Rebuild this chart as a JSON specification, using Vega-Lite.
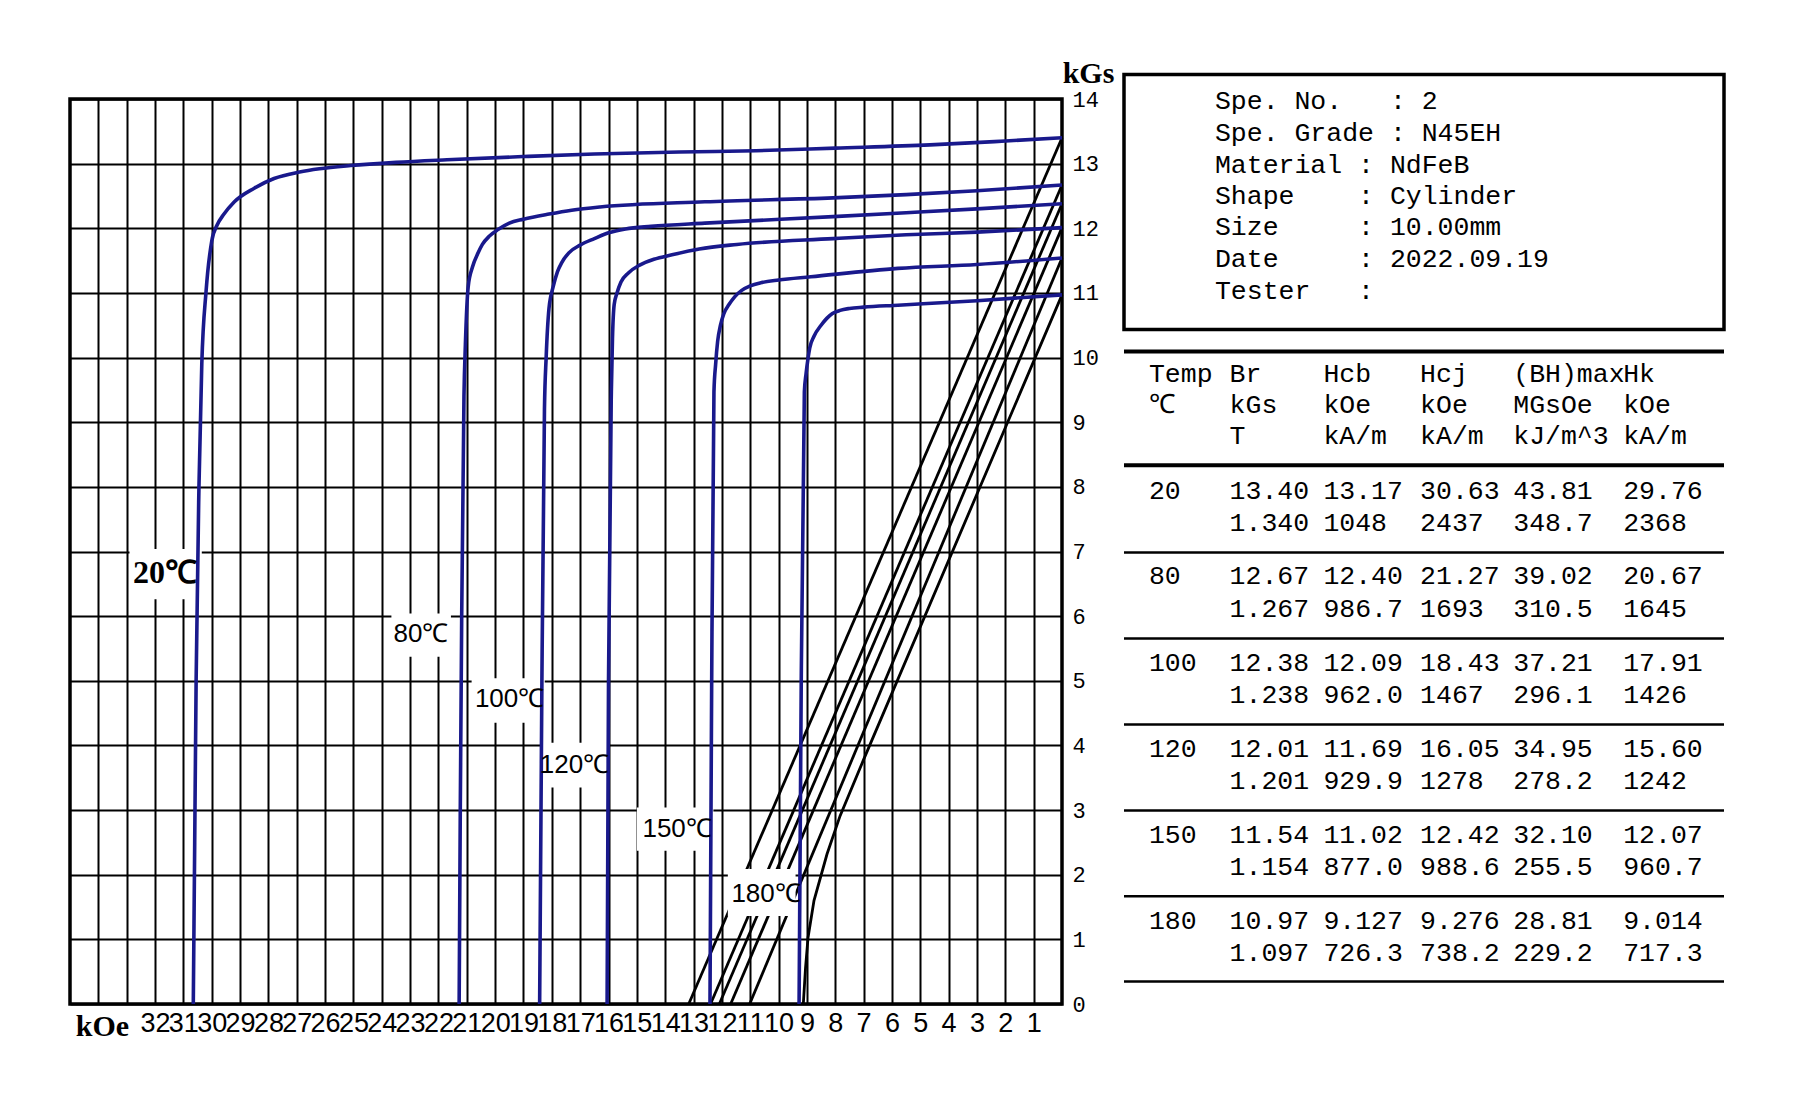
{
  "$schema": "https://vega.github.io/schema/vega-lite/v6.json",
  "background": "white",
  "padding": {"left": 68, "top": 56, "right": 20, "bottom": 20},
  "bounds": "flush",
  "spacing": 62,
  "config": {"view": {"stroke": null}},
  "datasets": {
    "jcurves": [
      {"temp": "20", "H": 0, "J": 13.40}, {"temp": "20", "H": 2, "J": 13.35}, {"temp": "20", "H": 4.66, "J": 13.29}, {"temp": "20", "H": 8, "J": 13.24}, {"temp": "20", "H": 10.8, "J": 13.2}, {"temp": "20", "H": 13.5, "J": 13.18}, {"temp": "20", "H": 16.5, "J": 13.15}, {"temp": "20", "H": 19, "J": 13.11}, {"temp": "20", "H": 21.7, "J": 13.06}, {"temp": "20", "H": 23.5, "J": 13.02}, {"temp": "20", "H": 25.1, "J": 12.97}, {"temp": "20", "H": 26.2, "J": 12.92}, {"temp": "20", "H": 26.9, "J": 12.87}, {"temp": "20", "H": 27.8, "J": 12.77}, {"temp": "20", "H": 28.5, "J": 12.62}, {"temp": "20", "H": 29.2, "J": 12.41}, {"temp": "20", "H": 29.6, "J": 12.2}, {"temp": "20", "H": 29.8, "J": 12.06}, {"temp": "20", "H": 30.0, "J": 11.8}, {"temp": "20", "H": 30.2, "J": 11.02}, {"temp": "20", "H": 30.35, "J": 9.9}, {"temp": "20", "H": 30.45, "J": 8}, {"temp": "20", "H": 30.55, "J": 5}, {"temp": "20", "H": 30.6, "J": 2.5}, {"temp": "20", "H": 30.65, "J": 0},
      {"temp": "80", "H": 0, "J": 12.67}, {"temp": "80", "H": 3, "J": 12.58}, {"temp": "80", "H": 5.5, "J": 12.52}, {"temp": "80", "H": 8.08, "J": 12.47}, {"temp": "80", "H": 12.6, "J": 12.41}, {"temp": "80", "H": 16.3, "J": 12.33}, {"temp": "80", "H": 17.3, "J": 12.28}, {"temp": "80", "H": 18.1, "J": 12.22}, {"temp": "80", "H": 19.0, "J": 12.14}, {"temp": "80", "H": 19.5, "J": 12.08}, {"temp": "80", "H": 19.9, "J": 11.98}, {"temp": "80", "H": 20.2, "J": 11.88}, {"temp": "80", "H": 20.45, "J": 11.75}, {"temp": "80", "H": 20.6, "J": 11.62}, {"temp": "80", "H": 20.8, "J": 11.4}, {"temp": "80", "H": 20.95, "J": 11.1}, {"temp": "80", "H": 21.05, "J": 10.2}, {"temp": "80", "H": 21.1, "J": 9.4}, {"temp": "80", "H": 21.18, "J": 6}, {"temp": "80", "H": 21.23, "J": 3}, {"temp": "80", "H": 21.27, "J": 0},
      {"temp": "100", "H": 0, "J": 12.38}, {"temp": "100", "H": 3, "J": 12.3}, {"temp": "100", "H": 5.5, "J": 12.24}, {"temp": "100", "H": 8.08, "J": 12.18}, {"temp": "100", "H": 12.6, "J": 12.08}, {"temp": "100", "H": 14.5, "J": 12.03}, {"temp": "100", "H": 15.4, "J": 11.99}, {"temp": "100", "H": 16.0, "J": 11.93}, {"temp": "100", "H": 16.5, "J": 11.84}, {"temp": "100", "H": 17.0, "J": 11.74}, {"temp": "100", "H": 17.4, "J": 11.62}, {"temp": "100", "H": 17.65, "J": 11.47}, {"temp": "100", "H": 17.8, "J": 11.33}, {"temp": "100", "H": 17.95, "J": 11.1}, {"temp": "100", "H": 18.1, "J": 10.76}, {"temp": "100", "H": 18.2, "J": 10.0}, {"temp": "100", "H": 18.26, "J": 9.2}, {"temp": "100", "H": 18.35, "J": 5}, {"temp": "100", "H": 18.43, "J": 0},
      {"temp": "120", "H": 0, "J": 12.01}, {"temp": "120", "H": 3, "J": 11.94}, {"temp": "120", "H": 5.5, "J": 11.9}, {"temp": "120", "H": 8.08, "J": 11.84}, {"temp": "120", "H": 11.47, "J": 11.75}, {"temp": "120", "H": 12.8, "J": 11.68}, {"temp": "120", "H": 13.76, "J": 11.59}, {"temp": "120", "H": 14.4, "J": 11.52}, {"temp": "120", "H": 14.9, "J": 11.43}, {"temp": "120", "H": 15.3, "J": 11.31}, {"temp": "120", "H": 15.56, "J": 11.17}, {"temp": "120", "H": 15.7, "J": 11.0}, {"temp": "120", "H": 15.8, "J": 10.82}, {"temp": "120", "H": 15.86, "J": 10.3}, {"temp": "120", "H": 15.9, "J": 9.47}, {"temp": "120", "H": 16.0, "J": 5}, {"temp": "120", "H": 16.05, "J": 0},
      {"temp": "150", "H": 0, "J": 11.54}, {"temp": "150", "H": 3, "J": 11.44}, {"temp": "150", "H": 5.79, "J": 11.38}, {"temp": "150", "H": 8.86, "J": 11.25}, {"temp": "150", "H": 10.0, "J": 11.2}, {"temp": "150", "H": 10.6, "J": 11.16}, {"temp": "150", "H": 11.0, "J": 11.11}, {"temp": "150", "H": 11.3, "J": 11.04}, {"temp": "150", "H": 11.55, "J": 10.94}, {"temp": "150", "H": 11.75, "J": 10.82}, {"temp": "150", "H": 11.93, "J": 10.68}, {"temp": "150", "H": 12.05, "J": 10.5}, {"temp": "150", "H": 12.15, "J": 10.25}, {"temp": "150", "H": 12.22, "J": 9.9}, {"temp": "150", "H": 12.28, "J": 9.47}, {"temp": "150", "H": 12.36, "J": 5}, {"temp": "150", "H": 12.42, "J": 0},
      {"temp": "180", "H": 0, "J": 10.97}, {"temp": "180", "H": 3, "J": 10.88}, {"temp": "180", "H": 5.79, "J": 10.81}, {"temp": "180", "H": 7.0, "J": 10.78}, {"temp": "180", "H": 7.5, "J": 10.76}, {"temp": "180", "H": 7.83, "J": 10.73}, {"temp": "180", "H": 8.1, "J": 10.68}, {"temp": "180", "H": 8.29, "J": 10.61}, {"temp": "180", "H": 8.5, "J": 10.5}, {"temp": "180", "H": 8.75, "J": 10.33}, {"temp": "180", "H": 8.9, "J": 10.15}, {"temp": "180", "H": 8.96, "J": 9.99}, {"temp": "180", "H": 9.03, "J": 9.75}, {"temp": "180", "H": 9.09, "J": 9.47}, {"temp": "180", "H": 9.2, "J": 5}, {"temp": "180", "H": 9.276, "J": 0}
    ],
    "bcurves": [
      {"temp": "20", "H": 0, "B": 13.40}, {"temp": "20", "H": 13.17, "B": 0},
      {"temp": "80", "H": 0, "B": 12.67}, {"temp": "80", "H": 12.40, "B": 0},
      {"temp": "100", "H": 0, "B": 12.38}, {"temp": "100", "H": 12.09, "B": 0},
      {"temp": "120", "H": 0, "B": 12.01}, {"temp": "120", "H": 11.69, "B": 0},
      {"temp": "150", "H": 0, "B": 11.54}, {"temp": "150", "H": 11.02, "B": 0},
      {"temp": "180", "H": 0, "B": 10.97}, {"temp": "180", "H": 7.0, "B": 3.78}, {"temp": "180", "H": 7.83, "B": 2.91}, {"temp": "180", "H": 8.29, "B": 2.32}, {"temp": "180", "H": 8.75, "B": 1.6}, {"temp": "180", "H": 8.96, "B": 1.03}, {"temp": "180", "H": 9.05, "B": 0.55}, {"temp": "180", "H": 9.127, "B": 0}
    ],
    "labels": [
      {"label": "20℃", "H": 31.65, "J": 6.66, "bh1": 32.9, "bh2": 30.35, "bj1": 6.26, "bj2": 7.04},
      {"label": "80℃", "H": 22.62, "J": 5.72, "bh1": 23.66, "bh2": 21.56, "bj1": 5.37, "bj2": 6.04},
      {"label": "100℃", "H": 19.49, "J": 4.72, "bh1": 20.83, "bh2": 18.25, "bj1": 4.35, "bj2": 5.04},
      {"label": "120℃", "H": 17.2, "J": 3.7, "bh1": 18.38, "bh2": 16.0, "bj1": 3.35, "bj2": 4.04},
      {"label": "150℃", "H": 13.58, "J": 2.7, "bh1": 15.0, "bh2": 12.3, "bj1": 2.37, "bj2": 3.04},
      {"label": "180℃", "H": 10.44, "J": 1.7, "bh1": 11.79, "bh2": 9.4, "bj1": 1.36, "bj2": 2.09}
    ],
    "info": [
      {"v": 0.07, "t": "Spe. No.\u00a0\u00a0\u00a0:\u00a02"},
      {"v": 1.05, "t": "Spe.\u00a0Grade\u00a0:\u00a0N45EH"},
      {"v": 2.03, "t": "Material\u00a0:\u00a0NdFeB"},
      {"v": 3.01, "t": "Shape\u00a0\u00a0\u00a0\u00a0:\u00a0Cylinder"},
      {"v": 3.96, "t": "Size\u00a0\u00a0\u00a0\u00a0\u00a0:\u00a010.00mm"},
      {"v": 4.94, "t": "Date\u00a0\u00a0\u00a0\u00a0\u00a0:\u00a02022.09.19"},
      {"v": 5.93, "t": "Tester\u00a0\u00a0\u00a0:"}
    ],
    "tbl": [
      {"v": 8.52, "t0": "Temp", "t1": "Br", "t2": "Hcb", "t3": "Hcj", "t4": "(BH)max", "t5": "Hk"},
      {"v": 9.46, "t0": "℃", "t1": "kGs", "t2": "kOe", "t3": "kOe", "t4": "MGsOe", "t5": "kOe"},
      {"v": 10.44, "t0": "", "t1": "T", "t2": "kA/m", "t3": "kA/m", "t4": "kJ/m^3", "t5": "kA/m"},
      {"v": 12.12, "t0": "20", "t1": "13.40", "t2": "13.17", "t3": "30.63", "t4": "43.81", "t5": "29.76"},
      {"v": 13.13, "t0": "", "t1": "1.340", "t2": "1048", "t3": "2437", "t4": "348.7", "t5": "2368"},
      {"v": 14.77, "t0": "80", "t1": "12.67", "t2": "12.40", "t3": "21.27", "t4": "39.02", "t5": "20.67"},
      {"v": 15.78, "t0": "", "t1": "1.267", "t2": "986.7", "t3": "1693", "t4": "310.5", "t5": "1645"},
      {"v": 17.44, "t0": "100", "t1": "12.38", "t2": "12.09", "t3": "18.43", "t4": "37.21", "t5": "17.91"},
      {"v": 18.44, "t0": "", "t1": "1.238", "t2": "962.0", "t3": "1467", "t4": "296.1", "t5": "1426"},
      {"v": 20.1, "t0": "120", "t1": "12.01", "t2": "11.69", "t3": "16.05", "t4": "34.95", "t5": "15.60"},
      {"v": 21.1, "t0": "", "t1": "1.201", "t2": "929.9", "t3": "1278", "t4": "278.2", "t5": "1242"},
      {"v": 22.76, "t0": "150", "t1": "11.54", "t2": "11.02", "t3": "12.42", "t4": "32.10", "t5": "12.07"},
      {"v": 23.76, "t0": "", "t1": "1.154", "t2": "877.0", "t3": "988.6", "t4": "255.5", "t5": "960.7"},
      {"v": 25.42, "t0": "180", "t1": "10.97", "t2": "9.127", "t3": "9.276", "t4": "28.81", "t5": "9.014"},
      {"v": 26.41, "t0": "", "t1": "1.097", "t2": "726.3", "t3": "738.2", "t4": "229.2", "t5": "717.3"}
    ],
    "rules": [
      {"v": 7.81, "kind": "major"}, {"v": 11.33, "kind": "major"}, {"v": 14.03, "kind": "minor"}, {"v": 16.69, "kind": "minor"},
      {"v": 19.35, "kind": "minor"}, {"v": 22.01, "kind": "minor"}, {"v": 24.67, "kind": "minor"}, {"v": 27.3, "kind": "minor"}
    ]
  },
  "hconcat": [
    {
      "width": 992,
      "height": 905,
      "view": {"stroke": "black", "strokeWidth": 3.5},
      "layer": [
        {
          "data": {"name": "bcurves"},
          "mark": {"type": "line", "color": "black", "strokeWidth": 2.8},
          "encoding": {
            "x": {"field": "H", "type": "quantitative", "title": "kOe",
              "scale": {"domain": [0, 35], "reverse": true, "nice": false, "zero": false},
              "axis": {
                "values": [1,2,3,4,5,6,7,8,9,10,11,12,13,14,15,16,17,18,19,20,21,22,23,24,25,26,27,28,29,30,31,32,33,34],
                "tickCount": 60, "format": "d",
                "grid": true, "gridColor": "black", "gridWidth": 2, "gridOpacity": 1,
                "ticks": false, "domain": false,
                "labelExpr": "datum.value > 32 ? '' : datum.label",
                "labelFont": "Liberation Sans Narrow, Liberation Sans, sans-serif",
                "labelFontSize": 27, "labelColor": "black", "labelPadding": 6,
                "labelBaseline": "top", "labelAlign": "center", "labelOverlap": false, "labelFlush": false,
                "title": "kOe", "titleFont": "Liberation Serif", "titleFontWeight": "bold", "titleFontSize": 30,
                "titleColor": "black", "titleAngle": 0, "titleX": 32, "titleY": 22, "titleAlign": "center", "titleBaseline": "middle"
              }
            },
            "y": {"field": "B", "type": "quantitative", "title": "kGs",
              "scale": {"domain": [0, 14], "nice": false, "zero": false},
              "axis": {
                "orient": "right",
                "values": [0,1,2,3,4,5,6,7,8,9,10,11,12,13,14],
                "tickCount": 30, "format": "d",
                "grid": true, "gridColor": "black", "gridWidth": 2, "gridOpacity": 1,
                "ticks": false, "domain": false,
                "labelFont": "Liberation Mono", "labelFontSize": 22, "labelColor": "black",
                "labelPadding": 10, "labelAlign": "left", "labelBaseline": "middle", "labelOverlap": false, "labelFlush": false,
                "title": "kGs", "titleFont": "Liberation Serif", "titleFontWeight": "bold", "titleFontSize": 30,
                "titleColor": "black", "titleAngle": 0, "titleX": 26, "titleY": -26, "titleAlign": "center", "titleBaseline": "middle"
              }
            },
            "detail": {"field": "temp", "type": "nominal"}
          }
        },
        {
          "data": {"name": "labels"},
          "mark": {"type": "rect", "fill": "white", "stroke": null},
          "encoding": {
            "x": {"field": "bh1", "type": "quantitative", "title": "kOe", "scale": {"domain": [0, 35], "reverse": true, "nice": false, "zero": false}},
            "x2": {"field": "bh2"},
            "y": {"field": "bj1", "type": "quantitative", "title": "kGs", "scale": {"domain": [0, 14], "nice": false, "zero": false}},
            "y2": {"field": "bj2"}
          }
        },
        {
          "data": {"name": "jcurves"},
          "mark": {"type": "line", "color": "#19198c", "strokeWidth": 3.6, "interpolate": "monotone"},
          "encoding": {
            "x": {"field": "H", "type": "quantitative", "title": "kOe", "scale": {"domain": [0, 35], "reverse": true, "nice": false, "zero": false}},
            "y": {"field": "J", "type": "quantitative", "title": "kGs", "scale": {"domain": [0, 14], "nice": false, "zero": false}},
            "detail": {"field": "temp", "type": "nominal"}
          }
        },
        {
          "data": {"name": "labels"},
          "transform": [{"filter": "datum.label != '20℃'"}],
          "mark": {"type": "text", "font": "Liberation Sans Narrow, Liberation Sans, sans-serif", "fontSize": 26, "color": "black", "align": "center", "baseline": "middle"},
          "encoding": {
            "x": {"field": "H", "type": "quantitative", "title": "kOe", "scale": {"domain": [0, 35], "reverse": true, "nice": false, "zero": false}},
            "y": {"field": "J", "type": "quantitative", "title": "kGs", "scale": {"domain": [0, 14], "nice": false, "zero": false}},
            "text": {"field": "label"}
          }
        },
        {
          "data": {"name": "labels"},
          "transform": [{"filter": "datum.label == '20℃'"}],
          "mark": {"type": "text", "font": "Liberation Serif", "fontWeight": "bold", "fontSize": 32, "color": "black", "align": "center", "baseline": "middle"},
          "encoding": {
            "x": {"field": "H", "type": "quantitative", "title": "kOe", "scale": {"domain": [0, 35], "reverse": true, "nice": false, "zero": false}},
            "y": {"field": "J", "type": "quantitative", "title": "kGs", "scale": {"domain": [0, 14], "nice": false, "zero": false}},
            "text": {"field": "label"}
          }
        }
      ]
    },
    {
      "width": 600,
      "height": 905,
      "layer": [
        {
          "data": {"values": [{}]},
          "mark": {"type": "rect", "filled": false, "stroke": "black", "strokeWidth": 3.5},
          "encoding": {
            "x": {"datum": 0, "type": "quantitative", "scale": {"domain": [0, 38.46], "nice": false, "zero": false}, "axis": null},
            "x2": {"datum": 38.46},
            "y": {"datum": -0.76, "type": "quantitative", "scale": {"domain": [0, 28], "reverse": true, "nice": false, "zero": false}, "axis": null},
            "y2": {"datum": 7.13}
          }
        },
        {
          "data": {"name": "info"},
          "mark": {"type": "text", "font": "Liberation Mono", "fontSize": 26.5, "color": "black", "align": "left", "baseline": "middle"},
          "encoding": {
            "x": {"datum": 5.83, "type": "quantitative", "scale": {"domain": [0, 38.46], "nice": false, "zero": false}, "axis": null},
            "y": {"field": "v", "type": "quantitative", "scale": {"domain": [0, 28], "reverse": true, "nice": false, "zero": false}, "axis": null},
            "text": {"field": "t"}
          }
        },
        {
          "data": {"name": "rules"},
          "mark": {"type": "rule", "color": "black"},
          "encoding": {
            "x": {"datum": 0, "type": "quantitative", "scale": {"domain": [0, 38.46], "nice": false, "zero": false}, "axis": null},
            "x2": {"datum": 38.46},
            "y": {"field": "v", "type": "quantitative", "scale": {"domain": [0, 28], "reverse": true, "nice": false, "zero": false}, "axis": null},
            "strokeWidth": {"field": "kind", "type": "nominal", "scale": {"domain": ["major", "minor"], "range": [4, 2.5]}, "legend": null}
          }
        },
        {
          "data": {"name": "tbl"},
          "mark": {"type": "text", "font": "Liberation Mono", "fontSize": 26.5, "color": "black", "align": "left", "baseline": "middle"},
          "encoding": {
            "x": {"datum": 1.6, "type": "quantitative", "scale": {"domain": [0, 38.46], "nice": false, "zero": false}, "axis": null},
            "y": {"field": "v", "type": "quantitative", "scale": {"domain": [0, 28], "reverse": true, "nice": false, "zero": false}, "axis": null},
            "text": {"field": "t0"}
          }
        },
        {
          "data": {"name": "tbl"},
          "mark": {"type": "text", "font": "Liberation Mono", "fontSize": 26.5, "color": "black", "align": "left", "baseline": "middle"},
          "encoding": {
            "x": {"datum": 6.77, "type": "quantitative", "scale": {"domain": [0, 38.46], "nice": false, "zero": false}, "axis": null},
            "y": {"field": "v", "type": "quantitative", "scale": {"domain": [0, 28], "reverse": true, "nice": false, "zero": false}, "axis": null},
            "text": {"field": "t1"}
          }
        },
        {
          "data": {"name": "tbl"},
          "mark": {"type": "text", "font": "Liberation Mono", "fontSize": 26.5, "color": "black", "align": "left", "baseline": "middle"},
          "encoding": {
            "x": {"datum": 12.78, "type": "quantitative", "scale": {"domain": [0, 38.46], "nice": false, "zero": false}, "axis": null},
            "y": {"field": "v", "type": "quantitative", "scale": {"domain": [0, 28], "reverse": true, "nice": false, "zero": false}, "axis": null},
            "text": {"field": "t2"}
          }
        },
        {
          "data": {"name": "tbl"},
          "mark": {"type": "text", "font": "Liberation Mono", "fontSize": 26.5, "color": "black", "align": "left", "baseline": "middle"},
          "encoding": {
            "x": {"datum": 18.98, "type": "quantitative", "scale": {"domain": [0, 38.46], "nice": false, "zero": false}, "axis": null},
            "y": {"field": "v", "type": "quantitative", "scale": {"domain": [0, 28], "reverse": true, "nice": false, "zero": false}, "axis": null},
            "text": {"field": "t3"}
          }
        },
        {
          "data": {"name": "tbl"},
          "mark": {"type": "text", "font": "Liberation Mono", "fontSize": 26.5, "color": "black", "align": "left", "baseline": "middle"},
          "encoding": {
            "x": {"datum": 24.95, "type": "quantitative", "scale": {"domain": [0, 38.46], "nice": false, "zero": false}, "axis": null},
            "y": {"field": "v", "type": "quantitative", "scale": {"domain": [0, 28], "reverse": true, "nice": false, "zero": false}, "axis": null},
            "text": {"field": "t4"}
          }
        },
        {
          "data": {"name": "tbl"},
          "mark": {"type": "text", "font": "Liberation Mono", "fontSize": 26.5, "color": "black", "align": "left", "baseline": "middle"},
          "encoding": {
            "x": {"datum": 32.0, "type": "quantitative", "scale": {"domain": [0, 38.46], "nice": false, "zero": false}, "axis": null},
            "y": {"field": "v", "type": "quantitative", "scale": {"domain": [0, 28], "reverse": true, "nice": false, "zero": false}, "axis": null},
            "text": {"field": "t5"}
          }
        }
      ]
    }
  ]
}
